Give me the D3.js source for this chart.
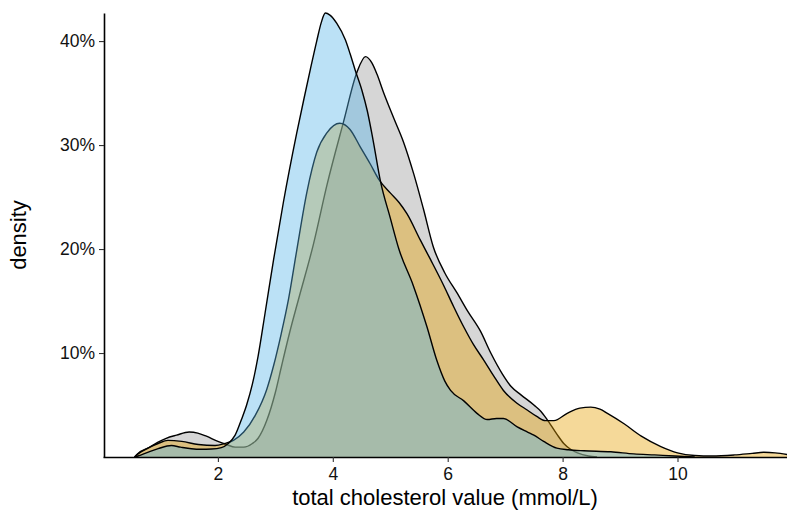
<!DOCTYPE html>
<html>
<head>
<meta charset="utf-8">
<script src="https://cdn.jsdelivr.net/npm/d3@7"></script>
<style>
  body { margin: 0; background: #fff; }
  text { font-family: "Liberation Sans", Arial, sans-serif; }
</style>
</head>
<body>
<div id="chart"></div>
<script>
// Density curves: [cholesterol (mmol/L), density]
const greyDensity = [
  [0.55, 0], [0.6, 0.003], [0.8, 0.009], [0.95, 0.014], [1.1, 0.018], [1.28, 0.021],
  [1.5, 0.024], [1.65, 0.023], [1.8, 0.02], [2.0, 0.015], [2.15, 0.012], [2.3, 0.0095],
  [2.45, 0.0095], [2.6, 0.013], [2.7, 0.018], [2.85, 0.035], [3.0, 0.062], [3.11, 0.088],
  [3.25, 0.12], [3.4, 0.151], [3.66, 0.204], [3.9, 0.262], [4.19, 0.323], [4.42, 0.37],
  [4.57, 0.385], [4.68, 0.379], [4.77, 0.368], [4.88, 0.351], [5.06, 0.326], [5.23, 0.303],
  [5.41, 0.272], [5.58, 0.238], [5.75, 0.202], [5.95, 0.177], [6.16, 0.158], [6.35, 0.14],
  [6.57, 0.121], [6.75, 0.1], [6.95, 0.08], [7.1, 0.068], [7.27, 0.06], [7.5, 0.05],
  [7.62, 0.044], [7.73, 0.036], [7.9, 0.022], [8.02, 0.013], [8.15, 0.007], [8.26, 0.004],
  [8.45, 0.001], [8.6, 0]
];

const goldDensity = [
  [0.55, 0], [0.61, 0.003], [0.8, 0.009], [0.96, 0.013], [1.13, 0.016], [1.37, 0.015],
  [1.66, 0.012], [1.95, 0.011], [2.12, 0.013], [2.27, 0.016], [2.45, 0.024], [2.65, 0.04],
  [2.85, 0.065], [2.97, 0.088], [3.1, 0.118], [3.23, 0.152], [3.37, 0.198], [3.55, 0.255],
  [3.72, 0.293], [3.9, 0.312], [4.12, 0.321], [4.3, 0.315], [4.48, 0.298], [4.65, 0.282],
  [4.8, 0.267], [5.0, 0.254], [5.15, 0.245], [5.29, 0.234], [5.52, 0.209], [5.7, 0.19],
  [5.93, 0.165], [6.1, 0.145], [6.28, 0.125], [6.45, 0.108], [6.63, 0.093], [6.8, 0.078],
  [6.97, 0.064], [7.2, 0.052], [7.39, 0.045], [7.55, 0.039], [7.7, 0.035], [7.85, 0.035],
  [8.08, 0.042], [8.3, 0.047], [8.49, 0.048], [8.65, 0.046], [8.78, 0.042], [9.07, 0.032],
  [9.37, 0.02], [9.71, 0.01], [10.0, 0.004], [10.3, 0.0015], [10.6, 0.001], [10.99, 0.002],
  [11.3, 0.0035], [11.5, 0.0045], [11.7, 0.004], [11.95, 0.002]
];

const blueDensity = [
  [0.55, 0], [0.61, 0.001], [0.8, 0.005], [0.96, 0.008], [1.19, 0.011], [1.35, 0.0095],
  [1.54, 0.008], [1.7, 0.0075], [1.89, 0.0077], [2.06, 0.009], [2.18, 0.013], [2.3, 0.021],
  [2.41, 0.036], [2.5, 0.05], [2.6, 0.07], [2.7, 0.097], [2.82, 0.138], [2.97, 0.19],
  [3.14, 0.245], [3.37, 0.311], [3.5, 0.345], [3.61, 0.373], [3.72, 0.4], [3.8, 0.418],
  [3.87, 0.427], [3.95, 0.425], [4.07, 0.417], [4.22, 0.401], [4.3, 0.388], [4.39, 0.372],
  [4.51, 0.352], [4.6, 0.333], [4.7, 0.305], [4.83, 0.265], [5.0, 0.23], [5.15, 0.2],
  [5.4, 0.165], [5.64, 0.125], [5.81, 0.093], [5.95, 0.073], [6.05, 0.064], [6.28, 0.054],
  [6.51, 0.042], [6.69, 0.036], [6.85, 0.037], [6.97, 0.037], [7.21, 0.029], [7.39, 0.024],
  [7.5, 0.021], [7.67, 0.015], [7.9, 0.0085], [8.1, 0.007], [8.37, 0.006], [8.84, 0.005],
  [9.24, 0.003], [9.6, 0.002], [9.95, 0.001], [10.3, 0]
];

const xTicks = [2, 4, 6, 8, 10];
const yTicks = [0.1, 0.2, 0.3, 0.4];

// drawing order matters: grey first, then gold, blue on top
const series = [
  { values: greyDensity, fill: "#999999" },
  { values: goldDensity, fill: "#E69F00" },
  { values: blueDensity, fill: "#56B4E9" }
];

const width = 787, height = 516;
const margin = { top: 13, right: 0, bottom: 59, left: 103 };

const svg = d3.select("#chart").append("svg")
  .attr("width", width)
  .attr("height", height);

const x = d3.scaleLinear()
  .domain([0, 11.906])
  .range([margin.left, width - margin.right]);

const y = d3.scaleLinear()
  .domain([0, 0.427])
  .range([height - margin.bottom, margin.top]);

svg.append("clipPath").attr("id", "plot-clip")
  .append("rect")
  .attr("x", margin.left).attr("y", 0)
  .attr("width", width - margin.left).attr("height", height - margin.bottom);

const area = d3.area()
  .x(d => x(d[0]))
  .y0(y(0))
  .y1(d => y(d[1]))
  .curve(d3.curveMonotoneX);

const line = d3.line()
  .x(d => x(d[0]))
  .y(d => y(d[1]))
  .curve(d3.curveMonotoneX);

const plot = svg.append("g").attr("clip-path", "url(#plot-clip)");

series.forEach(s => {
  plot.append("path")
    .datum(s.values)
    .attr("d", area)
    .attr("fill", s.fill)
    .attr("fill-opacity", 0.4);
  plot.append("path")
    .datum(s.values)
    .attr("d", line)
    .attr("fill", "none")
    .attr("stroke", "#000")
    .attr("stroke-width", 1.4)
    .attr("stroke-linejoin", "round");
});

// x axis
const xAxis = svg.append("g")
  .attr("transform", `translate(0, ${y(0)})`)
  .call(d3.axisBottom(x).tickValues(xTicks).tickSize(5).tickSizeOuter(0).tickPadding(6));

// y axis
const yAxis = svg.append("g")
  .attr("transform", `translate(${x(0) + 1}, 0)`)
  .call(d3.axisLeft(y).tickValues(yTicks).tickFormat(d3.format(".0%")).tickSize(5).tickSizeOuter(0).tickPadding(4));

[xAxis, yAxis].forEach(g => {
  g.select(".domain").attr("stroke", "#000").attr("stroke-width", 1.6);
  g.selectAll(".tick line").attr("stroke", "#333").attr("stroke-width", 1.1);
  g.selectAll(".tick text")
    .attr("fill", "#111")
    .style("font-size", "17.5px")
    .style("font-family", "'Liberation Sans', Arial, sans-serif");
});

// axis titles
svg.append("text")
  .attr("x", (x(0) + width) / 2)
  .attr("y", 505)
  .attr("text-anchor", "middle")
  .attr("fill", "#000")
  .style("font-size", "22px")
  .text("total cholesterol value (mmol/L)");

svg.append("text")
  .attr("transform", `translate(26, ${(margin.top + y(0)) / 2}) rotate(-90)`)
  .attr("text-anchor", "middle")
  .attr("fill", "#000")
  .style("font-size", "22px")
  .text("density");
</script>
</body>
</html>
